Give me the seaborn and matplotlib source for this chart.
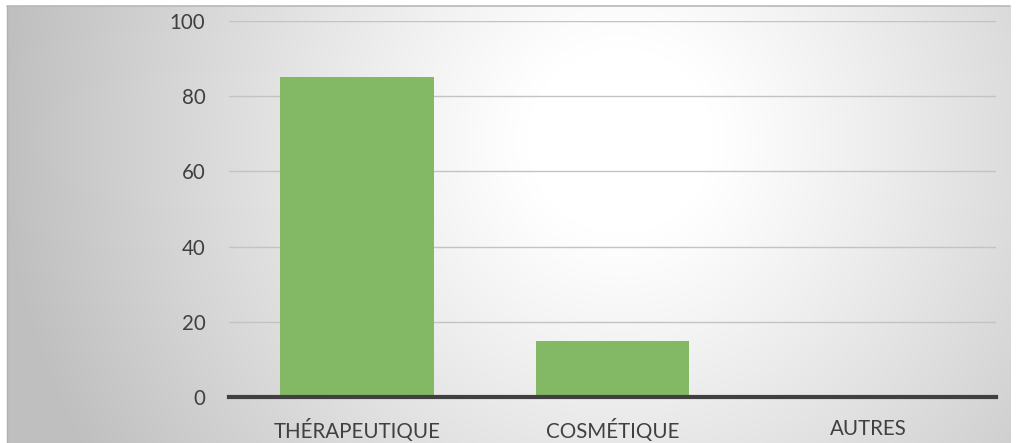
import numpy as np
import pandas as pd
import matplotlib
matplotlib.use("Agg")
import matplotlib.pyplot as plt
import seaborn as sns

categories = ["THÉRAPEUTIQUE", "COSMÉTIQUE", "AUTRES"]
values = [85, 15, 0]
y_ticks = [0, 20, 40, 60, 80, 100]

sns.set_style("white")
plt.rcParams["font.family"] = ["Lato", "DejaVu Sans"]

W, H = 1024, 443
fig = plt.figure(figsize=(W / 100, H / 100), dpi=100)

# radial grey-to-white background of the chart frame
bg = fig.add_axes([0, 0, 1, 1], zorder=0)
yy, xx = np.mgrid[0:H, 0:W]
cx, cy, r = 620, 140, 620
d = np.sqrt((xx - cx) ** 2 + ((yy - cy) * 1.0) ** 2) / r
d = np.clip(d, 0, 1)
shade = 1.0 - 0.25 * np.clip((d - 0.15) / 0.85, 0, 1) ** 1.1
img = np.dstack([shade] * 3)
frame = (xx >= 7) & (xx <= 1010) & (yy >= 6)
img[~frame] = 1.0
bg.imshow(img, extent=[0, W, H, 0], aspect="auto", interpolation="bilinear")
bg.plot([7, 1010], [6, 6], color="#b8b8b8", lw=1.2)
bg.plot([7, 7], [6, H], color="#b0b0b0", lw=1.0)
bg.set_xlim(0, W)
bg.set_ylim(H, 0)
bg.axis("off")

ax = fig.add_axes([229 / W, 1 - 397 / H, (996 - 229) / W, (397 - 21) / H], zorder=1)
ax.patch.set_alpha(0)
df = pd.DataFrame({"cat": categories, "val": values})
sns.barplot(data=df, x="cat", y="val", color="#83b964", saturation=1,
            width=0.6, ax=ax, zorder=2, linewidth=0)
ax.set_ylim(0, 100)
ax.set_xlim(-0.5, 2.5)
ax.set_yticks(y_ticks)
ax.yaxis.grid(True, color="#c3c3c3", lw=1.0, zorder=0)
ax.set_axisbelow(True)
ax.set_xlabel("")
ax.set_ylabel("")
for s in ["top", "right", "left"]:
    ax.spines[s].set_visible(False)
ax.spines["bottom"].set_color("#404040")
ax.spines["bottom"].set_linewidth(3)
ax.spines["bottom"].set_zorder(3)
ax.tick_params(axis="both", length=0, labelsize=14.8, labelcolor="#404040")
ax.tick_params(axis="y", pad=17)
ax.tick_params(axis="x", pad=16)

fig.savefig("out.png", dpi=100)
